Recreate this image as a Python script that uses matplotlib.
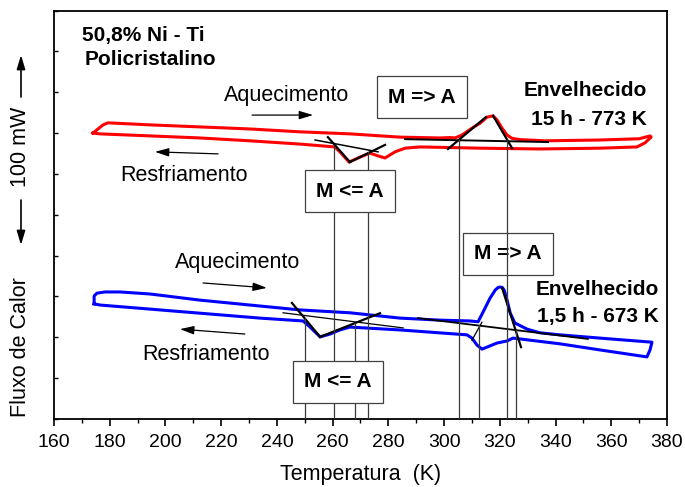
import matplotlib
matplotlib.use("Agg")
import matplotlib.pyplot as plt
from matplotlib.ticker import MultipleLocator, NullFormatter

plt.rcParams['font.family'] = ['Liberation Sans', 'DejaVu Sans']

# ---- DSC loop, aged 15 h at 773 K (red) ----
red_heat_T = [174.0, 177.6, 179.4, 194.5, 212.4, 230.3, 248.3, 266.2, 284.2, 298.5,
              302.1, 303.9, 306.4, 310.0, 312.9, 315.4, 317.6, 319.0, 320.8, 322.6,
              324.4, 327.2, 336.2, 356.0, 370.0, 373.9, 374.3]
red_heat_Y = [7.00, 7.20, 7.25, 7.20, 7.15, 7.10, 7.03, 6.98, 6.90, 6.88,
              6.89, 6.88, 6.95, 7.12, 7.24, 7.39, 7.42, 7.32, 7.12, 6.95,
              6.87, 6.84, 6.81, 6.83, 6.86, 6.93, 6.90]
red_cool_T = [374.3, 372.1, 369.2, 356.0, 334.4, 312.9, 291.4, 286.0, 282.4, 278.8,
              276.3, 273.4, 269.8, 265.9, 262.6, 260.8, 248.3, 230.3, 212.4, 194.5,
              176.5, 174.0]
red_cool_Y = [6.90, 6.76, 6.66, 6.63, 6.61, 6.63, 6.66, 6.63, 6.54, 6.39,
              6.44, 6.51, 6.41, 6.29, 6.54, 6.66, 6.73, 6.81, 6.88, 6.93,
              6.98, 7.00]

# ---- DSC loop, aged 1.5 h at 673 K (blue) ----
blue_heat_T = [174.4, 174.4, 175.4, 178.3, 183.7, 194.5, 212.4, 230.3, 248.3, 266.2,
               284.2, 298.5, 309.3, 312.2, 314.0, 316.5, 318.4, 319.4, 320.1, 320.9,
               321.6, 322.6, 323.7, 325.4, 329.8, 334.4, 341.6, 356.0, 374.6, 373.9, 372.8]
blue_heat_Y = [2.82, 3.01, 3.08, 3.11, 3.11, 3.06, 2.91, 2.79, 2.67, 2.60,
               2.47, 2.42, 2.40, 2.38, 2.62, 2.96, 3.16, 3.22, 3.23, 3.22,
               3.15, 2.91, 2.60, 2.35, 2.20, 2.11, 2.06, 1.98, 1.88, 1.69, 1.52]
blue_cool_T = [372.8, 356.0, 341.6, 327.2, 324.7, 322.6, 319.0, 315.4, 313.6, 311.8,
               310.0, 308.2, 284.2, 266.2, 262.6, 259.1, 255.5, 251.9, 249.4, 233.9,
               212.4, 194.5, 176.5, 174.4]
blue_cool_Y = [1.52, 1.69, 1.84, 1.96, 1.98, 1.91, 1.86, 1.76, 1.71, 1.81,
               1.98, 2.06, 2.18, 2.25, 2.18, 2.08, 2.01, 2.25, 2.40, 2.47,
               2.59, 2.69, 2.79, 2.82]

# ---- tangent constructions: (T_start, Y_start, T_end, Y_end) ----
red_cool_base = (253.7, 6.83, 276.3, 6.54)
red_cool_tan1 = (258.3, 6.90, 266.2, 6.29)
red_cool_tan2 = (266.2, 6.29, 278.8, 6.71)
red_heat_base = (286.0, 6.85, 337.3, 6.78)
red_heat_tan1 = (301.4, 6.61, 315.0, 7.39)
red_heat_tan2 = (317.6, 7.42, 324.4, 6.63)

blue_cool_base = (242.2, 2.60, 285.3, 2.23)
blue_cool_tan1 = (245.4, 2.84, 255.5, 2.01)
blue_cool_tan2 = (255.5, 2.01, 277.0, 2.59)
blue_heat_base = (290.6, 2.47, 351.6, 1.96)
blue_heat_tan1 = (310.0, 1.93, 313.6, 2.37)
blue_heat_tan2 = (320.8, 3.21, 327.6, 1.76)

# transformation temperatures (T, top of drop line)
red_transitions_T = [260.5, 272.7, 305.3, 322.6]
red_transitions_top = [6.66, 6.54, 6.83, 6.83]
blue_transitions_T = [250.1, 268.0, 312.5, 325.8]
blue_transitions_top = [2.47, 2.35, 2.30, 2.18]

x_min, x_max, x_step = 160, 380, 20

fig = plt.figure(figsize=(6.85, 4.87), dpi=100)
ax = fig.add_axes([54 / 685, 1 - 419 / 487, (667 - 54) / 685, (419 - 10.5) / 487])
ax.set_xlim(x_min, x_max)
ax.set_ylim(0, 10)

# drop lines to the temperature axis
for T, top in zip(red_transitions_T + blue_transitions_T,
                  red_transitions_top + blue_transitions_top):
    ax.plot([T, T], [0, top], color='#3a3a3a', lw=0.9, zorder=4)

# DSC loops
ax.plot(red_heat_T + red_cool_T, red_heat_Y + red_cool_Y, color='#ff0000', lw=2.2,
        solid_joinstyle='round', zorder=2)
ax.plot(blue_heat_T + blue_cool_T, blue_heat_Y + blue_cool_Y, color='#0000ff', lw=2.2,
        solid_joinstyle='round', zorder=2)

def seg(s, lw):
    ax.plot([s[0], s[2]], [s[1], s[3]], color='black', lw=lw, zorder=3)

seg(red_cool_base, 1.1)
seg(red_cool_tan1, 1.6)
seg(red_cool_tan2, 1.6)
seg(red_heat_base, 1.4)
seg(red_heat_tan1, 1.6)
seg(red_heat_tan2, 1.6)
seg(blue_cool_base, 0.9)
seg(blue_cool_tan1, 1.6)
seg(blue_cool_tan2, 1.6)
seg(blue_heat_base, 1.3)
seg(blue_heat_tan1, 0.9)
seg(blue_heat_tan2, 1.6)

# text labels
reg = 15.5
bold = 15
ax.text(170.0, 9.40, '50,8% Ni - Ti', fontsize=bold, fontweight='bold', ha='left', va='center')
ax.text(171.1, 8.79, 'Policristalino', fontsize=bold, fontweight='bold', ha='left', va='center')

ax.text(243.6, 7.93, 'Aquecimento', fontsize=reg, ha='center', va='center')
ax.text(206.7, 5.97, 'Resfriamento', fontsize=reg, ha='center', va='center')
ax.text(225.9, 3.82, 'Aquecimento', fontsize=reg, ha='center', va='center')
ax.text(214.5, 1.57, 'Resfriamento', fontsize=reg, ha='center', va='center')

ax.text(350.6, 8.03, 'Envelhecido', fontsize=bold, fontweight='bold', ha='center', va='center')
ax.text(351.8, 7.34, '15 h - 773 K', fontsize=bold, fontweight='bold', ha='center', va='center')
ax.text(354.9, 3.16, 'Envelhecido', fontsize=bold, fontweight='bold', ha='center', va='center')
ax.text(355.2, 2.50, '1,5 h - 673 K', fontsize=bold, fontweight='bold', ha='center', va='center')

box = dict(boxstyle='square,pad=0.55', fc='white', ec='#404040', lw=0.9)
ax.text(292.1, 7.88, 'M => A', fontsize=bold, fontweight='bold', ha='center', va='center',
        bbox=box, zorder=5)
ax.text(266.2, 5.58, 'M <= A', fontsize=bold, fontweight='bold', ha='center', va='center',
        bbox=box, zorder=5)
ax.text(322.9, 4.04, 'M => A', fontsize=bold, fontweight='bold', ha='center', va='center',
        bbox=box, zorder=3.5)
ax.text(261.9, 0.91, 'M <= A', fontsize=bold, fontweight='bold', ha='center', va='center',
        bbox=box, zorder=5)

arrow = dict(arrowstyle='-|>,head_length=0.6,head_width=0.18', color='black', lw=0.9,
             mutation_scale=14, shrinkA=0, shrinkB=0)
ax.annotate('', xy=(253.0, 7.44), xytext=(231.1, 7.44), arrowprops=arrow)
ax.annotate('', xy=(196.2, 6.54), xytext=(218.9, 6.49), arrowprops=arrow)
ax.annotate('', xy=(236.4, 3.21), xytext=(213.5, 3.33), arrowprops=arrow)
ax.annotate('', xy=(205.2, 2.20), xytext=(228.5, 2.08), arrowprops=arrow)

# axes styling
for sp in ax.spines.values():
    sp.set_linewidth(1.3)
ax.xaxis.set_major_locator(MultipleLocator(x_step))
ax.xaxis.set_minor_locator(MultipleLocator(x_step / 2))
ax.yaxis.set_major_locator(MultipleLocator(1))
ax.yaxis.set_major_formatter(NullFormatter())
ax.tick_params(axis='x', which='major', direction='out', length=5, width=1.2,
               labelsize=14, pad=6)
ax.tick_params(axis='x', which='minor', direction='out', length=3, width=1.0)
ax.tick_params(axis='y', which='major', direction='in', length=3, width=1.0)
ax.set_xlabel('Temperatura  (K)', fontsize=reg, labelpad=9)

# heat-flow axis caption with 100 mW scale bar
fig.text(21 / 685, 1 - 347 / 487, 'Fluxo de Calor', rotation=90, fontsize=reg,
         ha='center', va='center')
fig.text(21 / 685, 1 - 147 / 487, '100 mW', rotation=90, fontsize=reg,
         ha='center', va='center')
fig_arrow = dict(arrowstyle='-|>,head_length=0.6,head_width=0.18', color='black', lw=1.2,
                 mutation_scale=14, shrinkA=0, shrinkB=0)
fig.add_artist(matplotlib.patches.FancyArrowPatch((21 / 685, 1 - 97 / 487), (21 / 685, 1 - 55 / 487),
               transform=fig.transFigure, **fig_arrow))
fig.add_artist(matplotlib.patches.FancyArrowPatch((21 / 685, 1 - 200 / 487), (21 / 685, 1 - 245 / 487),
               transform=fig.transFigure, **fig_arrow))

fig.savefig('out.png', dpi=100)
